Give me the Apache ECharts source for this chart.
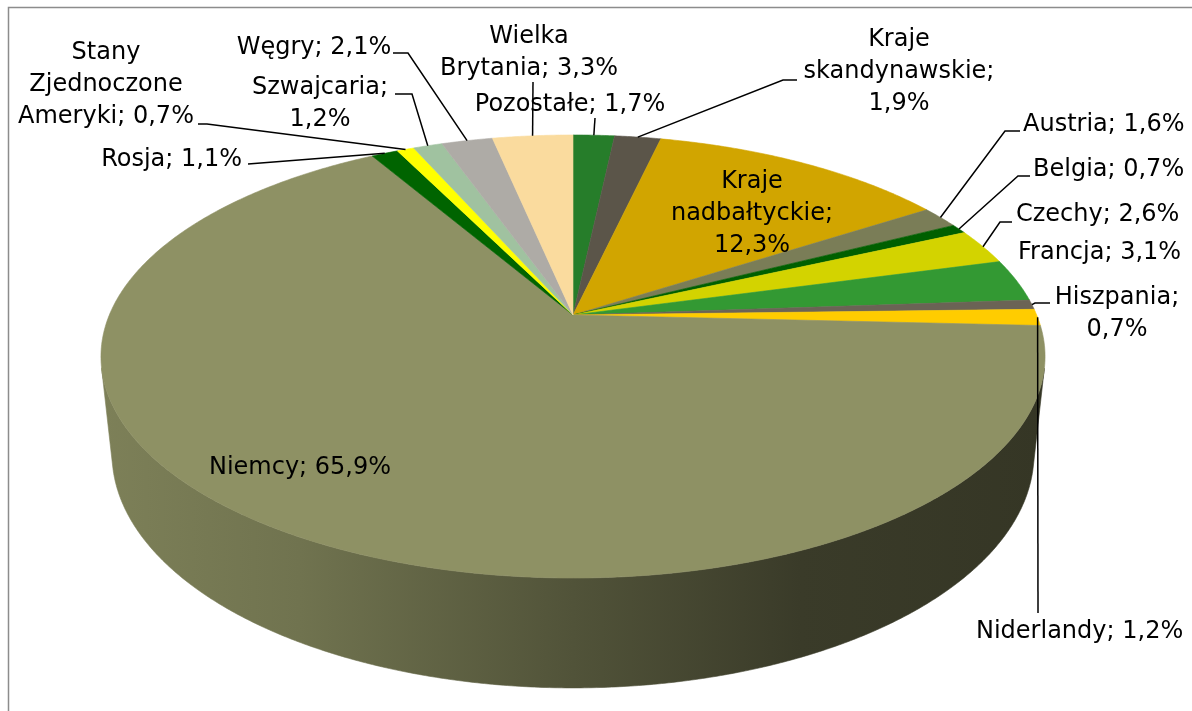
<!DOCTYPE html>
<html>
<head>
<meta charset="utf-8">
<script src="https://cdn.jsdelivr.net/npm/echarts@6/dist/echarts.min.js"></script>
<style>
  html, body { margin: 0; padding: 0; background: #fff; }
  #chart { width: 1192px; height: 711px; }
</style>
</head>
<body>
<div id="chart"></div>
<script>
// slices, clockwise from 12 o'clock
const sliceNames = ['Pozostałe', 'Kraje\nskandynawskie', 'Kraje\nnadbałtyckie', 'Austria', 'Belgia', 'Czechy',
  'Francja', 'Hiszpania', 'Niderlandy', 'Niemcy', 'Rosja', 'Stany\nZjednoczone\nAmeryki', 'Szwajcaria',
  'Węgry', 'Wielka\nBrytania']
const sliceShares = [1.7, 1.9, 12.3, 1.6, 0.7, 2.6, 3.1, 0.7, 1.2, 65.9, 1.1, 0.7, 1.2, 2.1, 3.3]
const sliceColors = ['#267d2a', '#5b5549', '#d1a500', '#7a7d57', '#005f00', '#d3d300', '#339933', '#6b6355',
  '#ffcc00', '#8e9164', '#006400', '#ffff00', '#a0c2a0', '#aeaba6', '#fadb9e']

// where each label sits and how its leader line runs (last point is the slice rim)
const labelLayout = [
  { x: 570, y: 105, align: 'center', br: false, leader: [[595, 118]] },
  { x: 899, y: 72, align: 'center', br: true, leader: [[797, 80], [783, 80]] },
  { x: 752, y: 214, align: 'center', br: true, leader: [] },
  { x: 1023, y: 125, align: 'left', br: false, leader: [[1020, 131], [1005, 131]] },
  { x: 1033, y: 170, align: 'left', br: false, leader: [[1030, 176], [1018, 176]] },
  { x: 1016, y: 215, align: 'left', br: false, leader: [[1012, 222], [1000, 222]] },
  { x: 1018, y: 253, align: 'left', br: false, leader: [] },
  { x: 1117, y: 314, align: 'center', br: true, leader: [[1050, 303], [1035, 303]] },
  { x: 976, y: 632, align: 'left', br: false, leader: [[1038, 613]] },
  { x: 300, y: 468, align: 'center', br: false, leader: [] },
  { x: 242, y: 160, align: 'right', br: false, leader: [[248, 164]] },
  { x: 106, y: 85, align: 'center', br: false, leader: [[198, 124], [207, 124]] },
  { x: 320, y: 104, align: 'center', br: true, leader: [[395, 94], [412, 94]] },
  { x: 314, y: 48, align: 'center', br: false, leader: [[393, 53], [408, 53]] },
  { x: 529, y: 53, align: 'center', br: false, leader: [[533, 82]] }
]

// 3d view of the disc (perspective)
const view = { cx: 573, cy: 315, focal: 2196, dist: 4.736, tilt: 27.45, height: 0.238 }
const sinT = Math.sin(view.tilt * Math.PI / 180)
const cosT = Math.cos(view.tilt * Math.PI / 180)
const wallLimit = Math.acos(-1 / (view.dist * cosT)) * 180 / Math.PI

const total = sliceShares.reduce((a, b) => a + b, 0)
const startAngles = []
let acc = 0
sliceShares.forEach(v => { startAngles.push(acc / total * 360); acc += v })
const spanOf = i => sliceShares[i] / total * 360

function project (deg, y) {
  const t = deg * Math.PI / 180
  const X = Math.sin(t), Z = -Math.cos(t)
  const depth = view.dist - (y * sinT + Z * cosT)
  const up = y * cosT - Z * sinT
  return [view.cx + view.focal * X / depth, view.cy - view.focal * up / depth]
}

function arc (a0, a1, y) {
  const pts = []
  const n = Math.max(2, Math.ceil((a1 - a0) / 0.4))
  for (let k = 0; k <= n; k++) pts.push(project(a0 + (a1 - a0) * k / n, y))
  return pts
}

function shade (hex, f) {
  const n = parseInt(hex.slice(1), 16)
  const r = Math.round(((n >> 16) & 255) * f), g = Math.round(((n >> 8) & 255) * f), b = Math.round((n & 255) * f)
  return `rgb(${r},${g},${b})`
}

const wallStops = [[100, 0.88], [300, 0.79], [573, 0.57], [800, 0.41], [1045, 0.37]]
function wallFill (hex) {
  return {
    type: 'linear', x: 100, y: 0, x2: 1045, y2: 0, global: true,
    colorStops: wallStops.map(s => ({ offset: (s[0] - 100) / 945, color: shade(hex, s[1]) }))
  }
}

const fmt = v => v.toFixed(1).replace('.', ',') + '%'

const myChart = echarts.init(document.getElementById('chart'))

const option = {
  animation: false,
  graphic: [{
    type: 'rect', silent: true,
    shape: { x: 8.5, y: 7.5, width: 1400, height: 900 },
    style: { fill: null, stroke: '#8c8c8c', lineWidth: 1.5 }
  }],
  series: [
    {
      type: 'custom', coordinateSystem: 'none', z: 1, silent: true,
      data: sliceShares,
      renderItem: params => {
        const i = params.dataIndex
        const lo = Math.max(startAngles[i], wallLimit)
        const hi = Math.min(startAngles[i] + spanOf(i), 360 - wallLimit)
        if (lo >= hi) return { type: 'group', children: [] }
        const pts = arc(lo, hi, 0).concat(arc(lo, hi, -view.height).reverse())
        const fill = wallFill(sliceColors[i])
        return { type: 'polygon', shape: { points: pts }, style: { fill, stroke: fill, lineWidth: 0.6 } }
      }
    },
    {
      type: 'custom', coordinateSystem: 'none', z: 2, silent: true,
      data: sliceShares,
      renderItem: params => {
        const i = params.dataIndex
        const pts = [[view.cx, view.cy]].concat(arc(startAngles[i], startAngles[i] + spanOf(i), 0))
        return { type: 'polygon', shape: { points: pts }, style: { fill: sliceColors[i], stroke: sliceColors[i], lineWidth: 0.6 } }
      }
    },
    {
      type: 'custom', coordinateSystem: 'none', z: 3, silent: true,
      data: sliceShares,
      renderItem: params => {
        const i = params.dataIndex
        const lay = labelLayout[i]
        const text = sliceNames[i] + ';' + (lay.br ? '\n' : ' ') + fmt(sliceShares[i])
        const children = [{
          type: 'text',
          style: {
            text, x: lay.x, y: lay.y, align: lay.align, verticalAlign: 'middle',
            font: '24px "DejaVu Sans"', lineHeight: 32, fill: '#000'
          }
        }]
        if (lay.leader.length) {
          const rim = project(startAngles[i] + spanOf(i) / 2, 0)
          children.push({
            type: 'polyline',
            shape: { points: lay.leader.concat([rim]) },
            style: { stroke: '#000', lineWidth: 1.5, fill: null }
          })
        }
        return { type: 'group', children }
      }
    }
  ]
}

myChart.setOption(option)
</script>
</body>
</html>
